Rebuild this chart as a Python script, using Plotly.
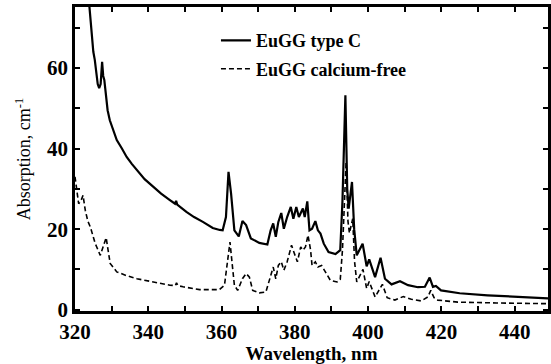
import plotly.graph_objects as go

# EuGG type C (solid)
wl_c = [323.0, 324.0, 324.3, 324.6, 325.0, 325.4, 325.8, 326.2, 326.6, 327.0, 327.4, 327.7,
        328.0, 328.4, 328.9, 329.5, 330.1, 331.4, 332.8, 334.1, 335.5, 336.9, 339.0, 341.4,
        343.5, 345.9, 347.3, 347.6, 347.9, 350.4, 352.5, 354.9, 357.6, 359.5, 360.3, 361.2,
        361.9, 362.6, 363.5, 364.7, 365.7, 366.7, 368.0, 370.3, 372.5, 373.4, 374.1, 374.8,
        375.5, 376.3, 377.0, 377.9, 378.9, 379.6, 380.4, 381.1, 382.2, 382.7, 383.4, 384.0,
        384.7, 385.6, 386.3, 387.0, 387.9, 389.2, 391.1, 392.4, 393.0, 393.8, 394.3, 394.7,
        395.6, 396.2, 396.9, 398.5, 399.6, 400.3, 401.9, 403.4, 404.6, 406.4, 408.7, 410.9,
        413.6, 415.5, 416.8, 417.7, 418.5, 419.9, 421.8, 425.0, 432.6, 440.0, 450.0]
abs_c = [85, 75, 70, 68, 64, 62, 58, 56, 55, 56, 61.5, 58,
         57, 53, 49.5, 47, 45.4, 42.1, 40, 37.9, 36.2, 34.6, 32.4, 30.5,
         28.8, 27.2, 26.3, 27.0, 26.1, 24.3, 23.0, 21.8, 20.3, 19.8, 19.7, 23,
         34.2, 28.8, 19.7, 18.2, 22.0, 21.0, 17.7, 16.6, 16.2, 19.7, 21.4, 18.1,
         21.8, 24.0, 20.1, 23.0, 25.5, 22.6, 25.5, 23.0, 25.1, 23.0, 26.9, 19.7,
         20.1, 22.0, 19.7, 18.9, 16.4, 14.3, 13.8, 14.8, 27, 53.2, 30, 25.1,
         31.7, 20, 13.5, 16.4, 10.8, 12.5, 8.1, 12.9, 7.7, 6.3, 7.1, 6.1,
         5.6, 5.7, 8.0, 5.7, 5.9, 4.8, 4.5, 4.1, 3.6, 3.2, 2.8]

# EuGG calcium-free (dashed)
wl_f = [320.0, 320.5, 321.0, 321.6, 322.2, 322.8, 323.5, 324.2, 325.5, 326.9, 327.7, 328.5,
        329.0, 329.6, 331.4, 334.0, 336.9, 341.0, 345.9, 347.4, 347.7, 348.1, 349.5, 354.0,
        359.4, 360.8, 361.7, 362.3, 362.8, 363.5, 364.4, 365.7, 366.7, 367.6, 368.5, 370.3,
        372.1, 373.4, 374.1, 374.8, 375.5, 376.3, 377.0, 377.9, 379.1, 379.9, 380.7, 381.6,
        382.2, 382.9, 383.6, 384.3, 384.7, 385.6, 386.3, 387.3, 388.3, 389.7, 391.5, 392.4,
        393.0, 394.0, 394.5, 394.9, 395.8, 396.3, 396.9, 398.6, 399.6, 400.3, 401.9, 403.9,
        405.2, 407.3, 409.6, 411.8, 414.5, 416.3, 417.1, 418.0, 419.0, 424.5, 435.0, 450.0]
abs_f = [33, 29, 26.3, 27, 28.4, 24.7, 22, 20.5, 16.5, 13.5, 15.5, 17.9,
         15, 11.5, 9.4, 8.5, 7.7, 6.9, 6.1, 6.0, 6.7, 6.0, 5.7, 5.0,
         5.0, 6.1, 12.3, 16.8, 12.3, 6.1, 4.8, 7.7, 9.0, 8.1, 4.8, 4.2,
         4.4, 8.1, 10.6, 7.7, 11.0, 11.9, 9.8, 11.9, 16.0, 13.9, 11.9, 15.6,
         14.8, 15.6, 18.5, 14.8, 11.0, 11.9, 10.6, 11.0, 9.4, 7.3, 6.9, 7.5,
         14.8, 36.7, 22, 19, 22.6, 12, 6.9, 10.0, 5.3, 7.0, 3.2, 6.3,
         3.0, 2.4, 3.3, 2.6, 2.2, 3.2, 4.8, 3.0, 2.4, 1.9, 1.7, 1.5]

names = ["EuGG type C", "EuGG calcium-free"]
x_ticks = [320, 340, 360, 380, 400, 420, 440]
y_ticks = [0, 20, 40, 60]

SERIF = "Liberation Serif, Times New Roman, serif"

fig = go.Figure()
fig.add_trace(go.Scatter(x=wl_c, y=abs_c, mode="lines", name=names[0], legendgroup="a",
                         line=dict(color="black", width=2.2)))
fig.add_trace(go.Scatter(x=wl_f, y=abs_f, mode="lines", name=names[1], legendgroup="b",
                         line=dict(color="black", width=1.6, dash="5px,3px")))

axis_common = dict(
    showgrid=False, zeroline=False, showline=True, linecolor="black", linewidth=2.5,
    mirror="ticks", ticks="inside", ticklen=5, tickwidth=1.5, tickcolor="black",
    tickfont=dict(family=SERIF, size=21, color="black", weight="bold"),
)

fig.update_layout(
    width=551, height=364,
    margin=dict(l=75, r=0, t=7, b=53),
    paper_bgcolor="white", plot_bgcolor="white",
    xaxis=dict(range=[320, 449.1], tickvals=x_ticks,
               minor=dict(dtick=10, tick0=320, ticks="inside", ticklen=5, tickwidth=1.5, tickcolor="black"),
               title=dict(text="Wavelength, nm", standoff=4,
                          font=dict(family=SERIF, size=19, color="black", weight="bold")),
               **axis_common),
    yaxis=dict(range=[-0.3, 75.1], tickvals=y_ticks,
               minor=dict(dtick=10, tick0=0, ticks="inside", ticklen=5, tickwidth=1.5, tickcolor="black"),
               title=dict(text="Absorption, cm<sup>-1</sup>", standoff=12,
                          font=dict(family=SERIF, size=18, color="black")),
               **axis_common),
    legend=dict(x=0.298, y=0.95, xanchor="left", yanchor="top",
                bgcolor="rgba(0,0,0,0)", traceorder="grouped", tracegroupgap=2,
                font=dict(family=SERIF, size=18, color="black", weight="bold")),
    showlegend=True,
)

fig.write_html("out.html")
